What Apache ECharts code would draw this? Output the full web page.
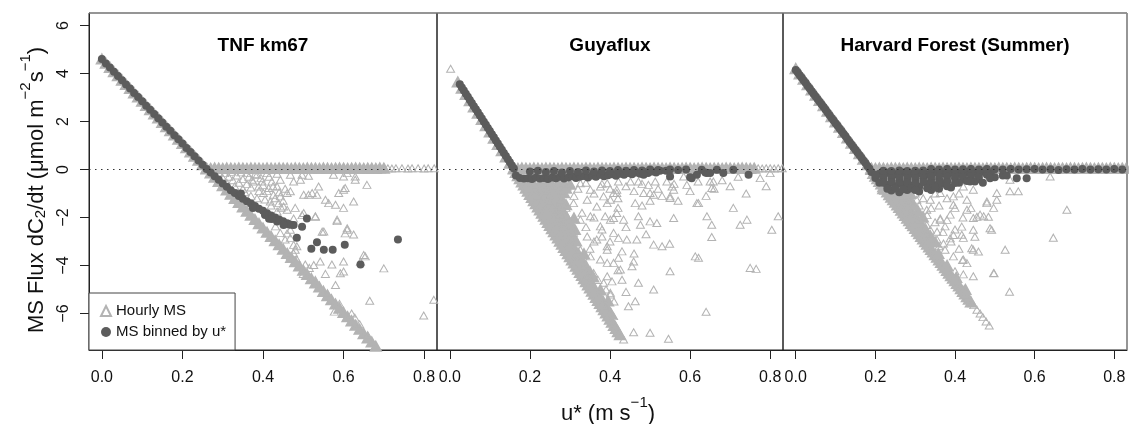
<!DOCTYPE html>
<html><head><meta charset="utf-8">
<script src="https://cdn.jsdelivr.net/npm/echarts@6/dist/echarts.min.js"></script>
<style>html,body{margin:0;padding:0;background:#fff}#c{width:1129px;height:424px}</style>
</head><body><div id="c"></div>
<script>
const FONT = '"Liberation Sans", Arial, Helvetica, sans-serif';
const panelTitles = ['TNF km67', 'Guyaflux', 'Harvard Forest (Summer)'];
const xTicks = [0, 0.2, 0.4, 0.6, 0.8];
const yTicks = [-6, -4, -2, 0, 2, 4, 6];
const legendNames = ['Hourly MS', 'MS binned by u*'];

// ---------- TNF km67 ----------
const tnfHourly = [
0.468,-0.22, 0.497,-0.22, 0.476,-0.50, 0.575,-0.22, 0.600,-0.29, 0.609,-0.15, 0.629,-0.29, 0.658,-0.64, 0.604,-0.77, 0.588,-0.98,
0.522,-0.98, 0.513,-1.05, 0.501,-1.05, 0.468,-0.91, 0.460,-0.98, 0.555,-1.26, 0.563,-1.40, 0.625,-1.33, 0.600,-1.60,
0.493,-0.43, 0.513,-0.26, 0.538,-0.71, 0.534,-1.05, 0.580,-1.47, 0.600,-0.84, 0.629,-0.43, 0.480,-1.60, 0.501,-1.81, 0.530,-1.95,
0.584,-2.09, 0.551,-2.58, 0.609,-2.51, 0.625,-2.71, 0.468,-2.85, 0.484,-3.20, 0.505,-3.96, 0.542,-3.83, 0.571,-3.96, 0.654,-3.62, 0.600,-3.83,
0.360,-0.15, 0.385,-0.22, 0.410,-0.15, 0.435,-0.18, 0.373,-0.43, 0.398,-0.50, 0.422,-0.50, 0.443,-0.43, 0.389,-0.71, 0.414,-0.77,
0.435,-0.71, 0.401,-0.98, 0.426,-1.05, 0.443,-1.12, 0.418,-1.33, 0.439,-1.40, 0.451,-1.54, 0.435,-1.75, 0.460,-1.68, 0.443,-2.09,
0.431,-2.37, 0.443,-2.64, 0.455,-2.92, 0.468,-2.51, 0.480,-3.34, 0.468,-3.62, 0.484,-3.75,
0.584,-2.15, 0.609,-2.45, 0.604,-2.66, 0.547,-2.59, 0.650,-3.56, 0.642,-3.84, 0.700,-4.12, 0.600,-4.25, 0.592,-4.32, 0.526,-3.98,
0.555,-4.35, 0.580,-4.81, 0.665,-5.47, 0.628,-6.17, 0.577,-5.92, 0.799,-6.08, 0.824,-5.43, 0.460,-2.66, 0.476,-3.14, 0.476,-3.49,
0.497,-1.90, 0.530,-1.97, 0.476,-2.04,
0.275,-0.15, 0.285,-0.30, 0.290,-0.12, 0.300,-0.35, 0.305,-0.15, 0.310,-0.55, 0.315,-0.30, 0.320,-0.10, 0.325,-0.45, 0.330,-0.70,
0.335,-0.25, 0.340,-0.55, 0.345,-0.12, 0.350,-0.80, 0.350,-0.40, 0.355,-0.95, 0.360,-0.60, 0.365,-0.30, 0.370,-1.10, 0.370,-0.75,
0.375,-0.50, 0.380,-0.20, 0.385,-1.20, 0.390,-0.90, 0.395,-0.35, 0.400,-0.65, 0.405,-1.25, 0.410,-0.90, 0.415,-0.30, 0.420,-1.50,
0.425,-0.70, 0.430,-1.20, 0.440,-0.95, 0.445,-1.60, 0.450,-1.30, 0.455,-0.80,
0.500,-4.35, 0.530,-4.60, 0.560,-5.15, 0.590,-5.60, 0.620,-6.00, 0.640,-6.45, 0.660,-6.90, 0.515,-4.10,
0.710,0.05, 0.720,0.04, 0.730,0.05, 0.745,0.05, 0.760,0.04, 0.770,0.05, 0.785,0.05, 0.800,0.04, 0.810,0.05, 0.825,0.05
];
const tnfHourlyBand = [
0.00,4.60, 0.01,4.42, 0.02,4.25, 0.03,4.07, 0.04,3.90, 0.05,3.72, 0.06,3.54, 0.07,3.37, 0.08,3.19, 0.09,3.02,
0.10,2.84, 0.11,2.66, 0.12,2.49, 0.13,2.31, 0.14,2.14, 0.15,1.96, 0.16,1.78, 0.17,1.61, 0.18,1.43, 0.19,1.26,
0.20,1.08, 0.21,0.90, 0.22,0.73, 0.23,0.55, 0.24,0.38, 0.25,0.20, 0.26,0.02, 0.27,-0.15, 0.28,-0.33, 0.29,-0.50,
0.30,-0.68, 0.31,-0.86, 0.32,-1.03, 0.33,-1.21, 0.34,-1.38, 0.35,-1.56, 0.36,-1.74, 0.37,-1.91, 0.38,-2.09, 0.39,-2.26,
0.40,-2.44, 0.41,-2.62, 0.42,-2.79, 0.43,-2.97, 0.44,-3.14, 0.45,-3.32, 0.46,-3.50, 0.47,-3.67, 0.48,-3.85, 0.49,-4.02,
0.50,-4.20, 0.51,-4.38, 0.52,-4.55, 0.53,-4.73, 0.54,-4.90, 0.55,-5.08, 0.56,-5.26, 0.57,-5.43, 0.58,-5.61, 0.59,-5.78,
0.60,-5.96, 0.61,-6.14, 0.62,-6.31, 0.63,-6.49, 0.64,-6.66, 0.65,-6.84, 0.66,-7.02, 0.67,-7.19, 0.68,-7.37,
0.26,0.05, 0.27,0.04, 0.28,0.06, 0.29,0.05, 0.30,0.04, 0.31,0.06, 0.32,0.05, 0.33,0.04, 0.34,0.06, 0.35,0.05,
0.36,0.04, 0.37,0.06, 0.38,0.05, 0.39,0.05, 0.40,0.04, 0.41,0.06, 0.42,0.05, 0.43,0.04, 0.44,0.06, 0.45,0.05,
0.46,0.05, 0.47,0.04, 0.48,0.06, 0.49,0.05, 0.50,0.04, 0.51,0.06, 0.52,0.05, 0.53,0.05, 0.54,0.04, 0.55,0.06,
0.56,0.05, 0.57,0.04, 0.58,0.05, 0.59,0.06, 0.60,0.05, 0.61,0.04, 0.62,0.05, 0.63,0.06, 0.64,0.05, 0.65,0.04,
0.66,0.05, 0.67,0.05, 0.68,0.04, 0.69,0.06, 0.70,0.05
];
const tnfBinned = [
0.00,4.60, 0.01,4.42, 0.02,4.25, 0.03,4.07, 0.04,3.90, 0.05,3.72, 0.06,3.54, 0.07,3.37, 0.08,3.19, 0.09,3.02,
0.10,2.84, 0.11,2.66, 0.12,2.49, 0.13,2.31, 0.14,2.14, 0.15,1.96, 0.16,1.78, 0.17,1.61, 0.18,1.43, 0.19,1.26,
0.20,1.08, 0.21,0.90, 0.22,0.73, 0.23,0.55, 0.24,0.38, 0.25,0.20, 0.26,0.02,
0.27,-0.12, 0.28,-0.28, 0.29,-0.43, 0.30,-0.58, 0.31,-0.72, 0.32,-0.86, 0.33,-0.98, 0.34,-1.10, 0.35,-1.22, 0.36,-1.32,
0.37,-1.42, 0.38,-1.52, 0.39,-1.64, 0.40,-1.72, 0.41,-1.82, 0.42,-1.92, 0.43,-2.00, 0.44,-2.08, 0.45,-2.16, 0.46,-2.24, 0.47,-2.30,
0.345,-1.00, 0.375,-1.60, 0.405,-1.90, 0.415,-2.05,
0.509,-2.04, 0.497,-2.38, 0.476,-2.31, 0.464,-2.29, 0.451,-2.31, 0.435,-2.17, 0.422,-2.06, 0.484,-2.84, 0.534,-3.03, 0.520,-3.30,
0.551,-3.34, 0.573,-3.34, 0.603,-3.13, 0.642,-3.96, 0.735,-2.92
];

// ---------- Guyaflux ----------
const guyHourly = [
0.393,-0.57, 0.421,-0.50, 0.463,-1.40, 0.471,-0.50, 0.496,-0.64, 0.513,-0.50, 0.555,-0.71, 0.584,-0.29, 0.592,-0.64, 0.658,-0.50,
0.654,-0.77, 0.775,-0.36, 0.800,-0.15, 0.484,-0.98, 0.509,-1.05, 0.550,-1.12, 0.559,-0.84, 0.621,-1.40, 0.708,-1.60, 0.409,-2.02,
0.434,-2.09, 0.471,-1.95, 0.476,-2.30, 0.500,-2.16, 0.517,-2.23, 0.559,-2.02, 0.642,-1.95, 0.654,-2.30, 0.742,-2.09, 0.725,-2.30,
0.804,-2.51, 0.820,-1.95, 0.654,-2.81, 0.409,-2.64, 0.421,-2.85, 0.442,-2.92, 0.467,-2.92, 0.509,-3.13, 0.530,-3.20, 0.549,-3.09,
0.613,-3.62, 0.621,-3.68, 0.750,-4.10, 0.765,-4.14, 0.393,-3.34, 0.430,-3.41, 0.421,-3.68, 0.455,-4.03, 0.459,-3.83, 0.550,-4.24,
0.426,-4.17, 0.405,-4.66, 0.430,-4.59, 0.471,-4.72, 0.509,-5.00, 0.401,-5.21, 0.463,-5.49, 0.446,-5.70, 0.640,-5.93, 0.388,-5.70,
0.413,-6.46, 0.459,-6.78, 0.500,-6.80, 0.546,-7.05, 0.434,-7.08, 0.617,-1.40, 0.451,-0.50, 0.542,-0.50, 0.650,-0.50, 0.500,-0.98,
0.417,-0.98, 0.550,-1.19,
0.251,-0.57, 0.293,-0.71, 0.326,-0.57, 0.351,-0.84, 0.376,-0.71, 0.409,-0.98, 0.276,-1.26, 0.309,-1.40, 0.343,-1.26, 0.367,-1.54,
0.393,-1.40, 0.417,-1.81, 0.293,-1.95, 0.326,-2.09, 0.351,-1.95, 0.376,-2.37, 0.401,-2.09, 0.309,-2.64, 0.343,-2.79, 0.367,-2.92,
0.393,-3.20, 0.326,-3.34, 0.351,-3.62, 0.376,-3.75, 0.409,-3.89, 0.334,-4.03, 0.359,-4.31, 0.393,-4.45, 0.268,-1.68, 0.284,-2.37,
0.301,-3.06, 0.318,-3.75, 0.343,-4.45,
0.384,-1.12, 0.401,-1.26, 0.417,-0.84, 0.388,-1.95, 0.380,-2.79, 0.393,-3.89, 0.384,-4.72, 0.401,-5.14, 0.380,-5.56, 0.409,-6.11,
0.30,-0.60, 0.32,-0.80, 0.34,-0.55, 0.36,-1.00, 0.38,-0.60, 0.40,-0.80, 0.42,-1.20, 0.44,-0.70, 0.46,-0.90, 0.48,-0.60,
0.50,-1.30, 0.52,-0.80, 0.53,-1.10, 0.56,-0.60, 0.57,-1.30, 0.60,-0.90, 0.62,-0.50, 0.64,-1.10, 0.66,-0.80, 0.68,-0.45,
0.70,-0.70, 0.72,-0.30, 0.74,-1.00, 0.79,-0.70,
0.36,-2.00, 0.38,-2.50, 0.40,-3.00, 0.42,-1.60, 0.44,-2.40, 0.46,-3.50, 0.48,-1.50, 0.49,-2.70, 0.36,-3.00, 0.35,-3.30,
0.37,-4.60, 0.39,-5.00, 0.41,-5.50, 0.42,-4.20, 0.44,-5.10, 0.34,-2.40, 0.33,-1.80, 0.31,-1.10, 0.29,-1.60, 0.28,-0.90,
0.27,-1.90, 0.26,-0.70, 0.25,-1.30, 0.24,-0.90, 0.23,-0.50, 0.22,-1.10,
0.002,4.20,
0.77,0.05, 0.78,0.04, 0.79,0.05, 0.80,0.05, 0.81,0.04, 0.82,0.05, 0.83,0.05
];
const guyHourlyBand = [
0.02,3.64, 0.03,3.38, 0.04,3.12, 0.05,2.86, 0.06,2.60, 0.07,2.34, 0.08,2.08, 0.09,1.82, 0.10,1.56, 0.11,1.30,
0.12,1.04, 0.13,0.78, 0.14,0.52, 0.15,0.26, 0.16,0.02,
0.165,-0.13, 0.170,-0.26, 0.175,-0.39, 0.180,-0.52, 0.185,-0.65, 0.190,-0.78, 0.195,-0.91, 0.200,-1.04, 0.205,-1.17, 0.210,-1.30,
0.215,-1.43, 0.220,-1.56, 0.225,-1.69, 0.230,-1.82, 0.235,-1.95, 0.240,-2.08, 0.245,-2.21, 0.250,-2.34, 0.255,-2.47, 0.260,-2.60,
0.265,-2.73, 0.270,-2.86, 0.275,-2.99, 0.280,-3.12, 0.285,-3.25, 0.290,-3.38, 0.295,-3.51, 0.300,-3.64, 0.305,-3.77, 0.310,-3.90,
0.315,-4.03, 0.320,-4.16, 0.325,-4.29, 0.330,-4.42, 0.335,-4.55, 0.340,-4.68, 0.345,-4.81, 0.350,-4.94, 0.355,-5.07, 0.360,-5.20,
0.365,-5.33, 0.370,-5.46, 0.375,-5.59, 0.380,-5.72, 0.385,-5.85, 0.390,-5.98, 0.395,-6.11, 0.400,-6.24, 0.405,-6.37, 0.410,-6.50,
0.415,-6.63, 0.420,-6.76, 0.425,-6.89,
0.195,-0.60, 0.210,-0.62, 0.225,-0.58, 0.240,-0.60, 0.255,-0.63, 0.270,-0.57, 0.285,-0.60, 0.300,-0.62,
0.200,-0.80, 0.215,-0.82, 0.230,-0.78, 0.245,-0.80, 0.260,-0.82, 0.275,-0.80, 0.290,-0.78,
0.210,-1.00, 0.225,-1.02, 0.240,-0.98, 0.255,-1.00, 0.270,-1.03, 0.285,-0.97,
0.220,-1.25, 0.235,-1.27, 0.250,-1.23, 0.265,-1.25, 0.280,-1.26,
0.228,-1.50, 0.243,-1.48, 0.258,-1.52, 0.273,-1.50, 0.290,-1.47,
0.238,-1.75, 0.253,-1.77, 0.268,-1.73, 0.283,-1.75,
0.247,-2.00, 0.262,-2.02, 0.277,-1.98, 0.292,-2.00, 0.310,-2.03,
0.257,-2.25, 0.272,-2.27, 0.287,-2.23, 0.302,-2.25,
0.266,-2.50, 0.281,-2.52, 0.296,-2.48, 0.312,-2.50,
0.276,-2.75, 0.291,-2.77, 0.306,-2.73,
0.285,-3.00, 0.300,-3.02, 0.315,-2.98,
0.295,-3.25, 0.310,-3.27,
0.305,-3.50, 0.320,-3.48, 0.335,-3.52,
0.315,-3.75, 0.330,-3.77,
0.325,-4.00, 0.340,-4.02, 0.335,-4.25, 0.350,-4.27,
0.344,-4.50, 0.358,-4.48, 0.353,-4.75, 0.363,-5.00, 0.376,-5.02, 0.373,-5.25,
0.383,-5.50, 0.395,-5.48, 0.393,-5.75, 0.402,-6.00,
0.16,0.05, 0.17,0.04, 0.18,0.06, 0.19,0.05, 0.20,0.04, 0.21,0.06, 0.22,0.05, 0.23,0.04, 0.24,0.06, 0.25,0.05,
0.26,0.05, 0.27,0.04, 0.28,0.06, 0.29,0.05, 0.30,0.04, 0.31,0.06, 0.32,0.05, 0.33,0.04, 0.34,0.06, 0.35,0.05,
0.36,0.04, 0.37,0.06, 0.38,0.05, 0.39,0.05, 0.40,0.04, 0.41,0.06, 0.42,0.05, 0.43,0.04, 0.44,0.06, 0.45,0.05,
0.46,0.05, 0.47,0.04, 0.48,0.06, 0.49,0.05, 0.50,0.04, 0.51,0.06, 0.52,0.05, 0.53,0.05, 0.54,0.04, 0.55,0.06,
0.56,0.05, 0.57,0.04, 0.58,0.05, 0.59,0.06, 0.60,0.05, 0.61,0.04, 0.62,0.05, 0.63,0.06, 0.64,0.05, 0.65,0.04,
0.66,0.05, 0.67,0.05, 0.68,0.04, 0.69,0.06, 0.70,0.05, 0.71,0.04, 0.72,0.05, 0.73,0.06, 0.74,0.05, 0.75,0.04, 0.76,0.05
];
const guyBinned = [
0.025,3.55, 0.030,3.42, 0.035,3.29, 0.040,3.16, 0.045,3.03, 0.050,2.90, 0.055,2.77, 0.060,2.64, 0.065,2.51, 0.070,2.38,
0.075,2.25, 0.080,2.12, 0.085,1.99, 0.090,1.86, 0.095,1.73, 0.100,1.60, 0.105,1.47, 0.110,1.34, 0.115,1.21, 0.120,1.08,
0.125,0.95, 0.130,0.82, 0.135,0.69, 0.140,0.56, 0.145,0.43, 0.150,0.30, 0.155,0.17, 0.160,0.04,
0.165,-0.25, 0.175,-0.35, 0.185,-0.38, 0.195,-0.36, 0.205,-0.40, 0.215,-0.33, 0.225,-0.38, 0.235,-0.35, 0.245,-0.40, 0.255,-0.33,
0.265,-0.36, 0.275,-0.30, 0.285,-0.38, 0.295,-0.33, 0.305,-0.28, 0.315,-0.35, 0.325,-0.30, 0.335,-0.27, 0.345,-0.33, 0.355,-0.25,
0.365,-0.30, 0.375,-0.22, 0.385,-0.28, 0.395,-0.24, 0.405,-0.20, 0.415,-0.26, 0.425,-0.18, 0.435,-0.22, 0.445,-0.15, 0.455,-0.20,
0.465,-0.12, 0.475,-0.18, 0.485,-0.10, 0.495,-0.15, 0.505,-0.08, 0.515,-0.12, 0.525,-0.05, 0.540,-0.05,
0.20,-0.08, 0.22,-0.05, 0.24,-0.10, 0.26,-0.06, 0.28,-0.12, 0.30,-0.06, 0.32,-0.10, 0.34,-0.04, 0.36,-0.08, 0.38,-0.04,
0.40,-0.06, 0.42,-0.02, 0.44,-0.05, 0.46,-0.02, 0.48,-0.04, 0.50,0.00, 0.52,-0.02, 0.55,0.00, 0.57,-0.02, 0.59,0.00,
0.550,-0.29, 0.604,-0.36, 0.617,-0.22, 0.629,-0.01, 0.642,-0.15, 0.667,-0.01, 0.683,-0.15, 0.708,-0.01, 0.746,-0.22, 0.484,-0.22,
0.455,-0.15, 0.600,-0.32, 0.638,-0.12, 0.650,-0.15
];

// ---------- Harvard Forest (Summer) ----------
const hfHourly = [
0.421,-0.71, 0.446,-0.84, 0.430,-1.26, 0.480,-1.33, 0.505,-1.26, 0.505,-0.98, 0.430,-1.68, 0.463,-1.88, 0.472,-1.95, 0.497,-1.60,
0.446,-2.02, 0.492,-2.51, 0.446,-2.51, 0.417,-2.72, 0.421,-2.85, 0.526,-3.34, 0.446,-3.34, 0.396,-3.62, 0.375,-3.34, 0.421,-3.75,
0.497,-4.31, 0.446,-4.45, 0.400,-4.24, 0.375,-2.37, 0.388,-1.88, 0.396,-1.47, 0.363,-2.09, 0.338,-2.51, 0.355,-2.92, 0.329,-1.68,
0.304,-1.26, 0.338,-1.26, 0.288,-1.81, 0.313,-2.09, 0.363,-0.98, 0.396,-1.12,
0.538,-0.43, 0.559,-0.91, 0.639,-0.29, 0.681,-1.68, 0.480,-1.40, 0.538,-0.91,
0.417,-2.38, 0.455,-1.97, 0.484,-1.97, 0.488,-2.45, 0.647,-2.84, 0.442,-3.28, 0.459,-3.42, 0.419,-3.77, 0.421,-4.37, 0.498,-4.32,
0.537,-5.09, 0.430,-5.22, 0.442,-5.57, 0.396,-2.73, 0.371,-3.08, 0.388,-2.87, 0.355,-2.59, 0.329,-2.31, 0.318,-2.04, 0.363,-2.04,
0.25,-0.90, 0.27,-1.10, 0.28,-0.80, 0.29,-1.30, 0.30,-1.00, 0.31,-1.50, 0.32,-1.20, 0.33,-1.90, 0.34,-1.60, 0.35,-2.20,
0.36,-1.50, 0.37,-2.60, 0.38,-2.10, 0.39,-3.00, 0.40,-2.50, 0.41,-3.30, 0.42,-2.00, 0.43,-3.90, 0.44,-1.60, 0.45,-2.80,
0.38,-1.20, 0.40,-1.60, 0.41,-1.00, 0.35,-1.00, 0.33,-2.70, 0.36,-3.20,
0.447,-5.65, 0.455,-5.84, 0.463,-6.00, 0.470,-6.15, 0.478,-6.33, 0.486,-6.50
];
const hfHourlyBand = [
0.00,4.20, 0.01,3.98, 0.02,3.76, 0.03,3.53, 0.04,3.31, 0.05,3.09, 0.06,2.87, 0.07,2.65, 0.08,2.42, 0.09,2.20,
0.10,1.98, 0.11,1.76, 0.12,1.54, 0.13,1.31, 0.14,1.09, 0.15,0.87, 0.16,0.65, 0.17,0.43, 0.18,0.20, 0.19,0.00,
0.195,-0.17, 0.200,-0.28, 0.205,-0.39, 0.210,-0.50, 0.215,-0.61, 0.220,-0.72, 0.225,-0.83, 0.230,-0.94, 0.235,-1.05, 0.240,-1.16,
0.245,-1.26, 0.250,-1.37, 0.255,-1.48, 0.260,-1.59, 0.265,-1.70, 0.270,-1.81, 0.275,-1.92, 0.280,-2.03, 0.285,-2.14, 0.290,-2.25,
0.295,-2.35, 0.300,-2.46, 0.305,-2.57, 0.310,-2.68, 0.315,-2.79, 0.320,-2.90, 0.325,-3.01, 0.330,-3.12, 0.335,-3.23, 0.340,-3.34,
0.345,-3.44, 0.350,-3.55, 0.355,-3.66, 0.360,-3.77, 0.365,-3.88, 0.370,-3.99, 0.375,-4.10, 0.380,-4.21, 0.385,-4.32, 0.390,-4.43,
0.395,-4.53, 0.400,-4.64, 0.405,-4.75, 0.410,-4.86, 0.415,-4.97, 0.420,-5.08, 0.425,-5.19, 0.430,-5.30, 0.435,-5.41, 0.440,-5.52,
0.225,-0.60, 0.240,-0.62, 0.255,-0.58, 0.270,-0.60, 0.285,-0.63,
0.220,-0.80, 0.235,-0.82, 0.250,-0.78, 0.265,-0.80, 0.280,-0.80,
0.243,-1.00, 0.258,-1.02, 0.273,-0.98, 0.288,-1.00,
0.254,-1.25, 0.269,-1.27, 0.284,-1.23,
0.266,-1.50, 0.281,-1.52, 0.296,-1.48,
0.277,-1.75, 0.292,-1.77, 0.307,-1.73,
0.289,-2.00, 0.304,-2.02, 0.319,-1.98,
0.300,-2.25, 0.315,-2.27, 0.312,-2.50, 0.327,-2.52, 0.324,-2.75, 0.338,-2.77, 0.335,-3.00, 0.350,-3.02,
0.358,-3.50, 0.380,-4.00, 0.403,-4.50, 0.426,-5.00,
0.19,0.05, 0.20,0.04, 0.21,0.06, 0.22,0.05, 0.23,0.04, 0.24,0.06, 0.25,0.05, 0.26,0.05, 0.27,0.04, 0.28,0.06,
0.29,0.05, 0.30,0.04, 0.31,0.06, 0.32,0.05, 0.33,0.04, 0.34,0.06, 0.35,0.05, 0.36,0.04, 0.37,0.06, 0.38,0.05,
0.39,0.05, 0.40,0.04, 0.41,0.06, 0.42,0.05, 0.43,0.04, 0.44,0.06, 0.45,0.05, 0.46,0.05, 0.47,0.04, 0.48,0.06,
0.49,0.05, 0.50,0.04, 0.51,0.06, 0.52,0.05, 0.53,0.05, 0.54,0.04, 0.55,0.06, 0.56,0.05, 0.57,0.04, 0.58,0.05,
0.59,0.06, 0.60,0.05, 0.61,0.04, 0.62,0.05, 0.63,0.06, 0.64,0.05, 0.65,0.04, 0.66,0.05, 0.67,0.05, 0.68,0.04,
0.69,0.06, 0.70,0.05, 0.71,0.04, 0.72,0.05, 0.73,0.06, 0.74,0.05, 0.75,0.04, 0.76,0.05, 0.77,0.05, 0.78,0.04,
0.79,0.06, 0.80,0.05, 0.81,0.04, 0.82,0.05, 0.83,0.05
];
const hfBinned = [
0.000,4.15, 0.005,4.04, 0.010,3.93, 0.015,3.82, 0.020,3.71, 0.025,3.60, 0.030,3.48, 0.035,3.37, 0.040,3.26, 0.045,3.15,
0.050,3.04, 0.055,2.93, 0.060,2.82, 0.065,2.71, 0.070,2.60, 0.075,2.49, 0.080,2.37, 0.085,2.26, 0.090,2.15, 0.095,2.04,
0.100,1.93, 0.105,1.82, 0.110,1.71, 0.115,1.60, 0.120,1.49, 0.125,1.38, 0.130,1.26, 0.135,1.15, 0.140,1.04, 0.145,0.93,
0.150,0.82, 0.155,0.71, 0.160,0.60, 0.165,0.49, 0.170,0.38, 0.175,0.27, 0.180,0.15, 0.185,0.04,
0.19,-0.10, 0.21,-0.18, 0.23,-0.14, 0.25,-0.20, 0.27,-0.12, 0.29,-0.18, 0.31,-0.15, 0.33,-0.20, 0.35,-0.10, 0.37,-0.16,
0.39,-0.12, 0.41,-0.18, 0.43,-0.10, 0.45,-0.14, 0.47,-0.08, 0.49,-0.12,
0.20,-0.35, 0.22,-0.42, 0.24,-0.38, 0.26,-0.45, 0.28,-0.40, 0.30,-0.44, 0.32,-0.36, 0.34,-0.42, 0.36,-0.40, 0.38,-0.46,
0.40,-0.38, 0.42,-0.42, 0.44,-0.35, 0.46,-0.40, 0.50,-0.32, 0.52,-0.25,
0.21,-0.55, 0.23,-0.65, 0.25,-0.70, 0.27,-0.62, 0.29,-0.68, 0.31,-0.72, 0.33,-0.60, 0.35,-0.66, 0.37,-0.58, 0.39,-0.75,
0.41,-0.55, 0.45,-0.50,
0.24,-0.88, 0.26,-0.95, 0.28,-0.85, 0.31,-0.92, 0.34,-0.85, 0.36,-0.80,
0.20,-0.22, 0.22,-0.28, 0.24,-0.25, 0.26,-0.30, 0.28,-0.26, 0.30,-0.30, 0.32,-0.24, 0.34,-0.28, 0.36,-0.25, 0.38,-0.30,
0.40,-0.26, 0.42,-0.28, 0.44,-0.22, 0.46,-0.26, 0.48,-0.22,
0.22,-0.55, 0.24,-0.52, 0.26,-0.58, 0.28,-0.55, 0.30,-0.58, 0.32,-0.52, 0.34,-0.56, 0.36,-0.55, 0.38,-0.52, 0.40,-0.56, 0.43,-0.48,
0.23,-0.80, 0.25,-0.78, 0.27,-0.82, 0.29,-0.78, 0.30,-0.85, 0.33,-0.78, 0.35,-0.75, 0.38,-0.70,
0.22,-0.05, 0.24,-0.06, 0.26,-0.04, 0.28,-0.06, 0.30,-0.05, 0.32,-0.04,
0.555,-0.36, 0.580,-0.36, 0.530,-0.25, 0.470,-0.55, 0.488,-0.36, 0.438,-0.50,
0.34,0.02, 0.36,0.00, 0.38,0.02, 0.40,0.00, 0.42,0.01, 0.44,0.02, 0.46,0.00, 0.48,0.02, 0.50,0.01, 0.52,0.00,
0.54,0.02, 0.56,0.00, 0.58,0.01, 0.60,0.02, 0.62,0.00, 0.64,0.01, 0.66,-0.02, 0.68,0.01, 0.70,0.00, 0.72,0.02,
0.74,0.00, 0.76,0.01, 0.78,0.00, 0.80,0.02, 0.82,0.00
];

function pairs(a) { const r = []; for (let i = 0; i < a.length; i += 2) r.push([a[i], a[i + 1]]); return r; }

const panels = [
  { hourly: tnfHourly, band: tnfHourlyBand, binned: tnfBinned },
  { hourly: guyHourly, band: guyHourlyBand, binned: guyBinned },
  { hourly: hfHourly, band: hfHourlyBand, binned: hfBinned }
];

const gridBoxes = [
  { left: 89, top: 13, width: 348, height: 337 },
  { left: 437, top: 13, width: 346, height: 337 },
  { left: 783, top: 13, width: 344, height: 337 }
];
const XMIN = -0.032, XMAX = 0.832, YMIN = -7.52, YMAX = 6.52;
const GRAY = '#b3b3b3', DARK = '#5c5c5c', AX = '#222';

const fmtY = v => (v < 0 ? '\u2212' + Math.abs(v) : String(v));

const option = {
  animation: false,
  backgroundColor: '#fff',
  grid: gridBoxes.map(g => Object.assign({ show: true, borderColor: AX, borderWidth: 1, backgroundColor: 'transparent' }, g)),
  xAxis: gridBoxes.map((g, i) => ({
    type: 'value', gridIndex: i, min: XMIN, max: XMAX,
    axisLine: { show: true, onZero: false, lineStyle: { color: AX, width: 1 } },
    axisTick: { show: true, customValues: xTicks, length: 9, inside: false, lineStyle: { color: AX, width: 1 } },
    axisLabel: { show: true, customValues: xTicks, margin: 20, fontSize: 16, fontFamily: FONT, color: '#111',
      formatter: v => Number(v).toFixed(1) },
    splitLine: { show: false }
  })),
  yAxis: gridBoxes.map((g, i) => ({
    type: 'value', gridIndex: i, min: YMIN, max: YMAX, show: i === 0,
    axisLine: { show: i === 0, onZero: false, lineStyle: { color: AX, width: 1 } },
    axisTick: { show: i === 0, customValues: yTicks, length: 9, inside: false, lineStyle: { color: AX, width: 1 } },
    axisLabel: { show: i === 0, customValues: yTicks, rotate: 90, margin: 17, fontSize: 16, fontFamily: FONT, color: '#111',
      formatter: fmtY },
    splitLine: { show: false }
  })),
  legend: {
    left: 89, top: 293, orient: 'vertical',
    backgroundColor: '#fff', borderColor: '#444', borderWidth: 1, borderRadius: 0,
    padding: [10, 9, 10, 11], itemGap: 5, itemWidth: 10, itemHeight: 10,
    textStyle: { fontSize: 15, fontFamily: FONT, color: '#111', lineHeight: 16 },
    data: [{ name: legendNames[0], icon: 'triangle' }, { name: legendNames[1], icon: 'circle' }],
    selectedMode: false
  },
  series: [],
  graphic: []
};

panels.forEach((p, i) => {
  option.series.push({
    type: 'scatter', name: legendNames[0], xAxisIndex: i, yAxisIndex: i,
    data: pairs(p.hourly), symbol: 'triangle', symbolSize: [8, 7], z: 3, silent: true,
    itemStyle: { color: 'rgba(255,255,255,0)', borderColor: GRAY, borderWidth: 1, opacity: 1 }
  });
  option.series.push({
    type: 'scatter', name: legendNames[0], xAxisIndex: i, yAxisIndex: i,
    data: pairs(p.band), symbol: 'triangle', symbolSize: [10, 9], z: 2, silent: true,
    itemStyle: { color: GRAY, borderColor: GRAY, borderWidth: 2, opacity: 1 }
  });
  option.series.push({
    type: 'scatter', name: legendNames[1], xAxisIndex: i, yAxisIndex: i,
    data: pairs(p.binned), symbol: 'circle', symbolSize: 8, z: 4, silent: true,
    itemStyle: { color: DARK, opacity: 1 }
  });
  option.series.push({
    type: 'scatter', name: 'zero' + i, xAxisIndex: i, yAxisIndex: i, data: [], z: 5, silent: true,
    markLine: { silent: true, symbol: 'none', label: { show: false }, animation: false,
      lineStyle: { color: '#333', width: 1, type: [1.5, 4.5] }, data: [{ yAxis: 0 }] }
  });
  const g = gridBoxes[i];
  option.graphic.push({
    type: 'text', x: g.left + g.width / 2, y: 46, z: 50,
    style: { text: panelTitles[i], fontSize: 19, fontWeight: 'bold', fontFamily: FONT, fill: '#000',
      align: 'center', verticalAlign: 'middle', textAlign: 'center', textVerticalAlign: 'middle' }
  });
});

// lighter outer top/right frame edges, as in the reference
option.graphic.push({ type: 'line', z: 60, silent: true,
  shape: { x1: 89, y1: 13, x2: 1127, y2: 13 }, style: { stroke: '#9a9a9a', lineWidth: 1.2 } });
option.graphic.push({ type: 'line', z: 60, silent: true,
  shape: { x1: 1127, y1: 13, x2: 1127, y2: 350 }, style: { stroke: '#9a9a9a', lineWidth: 1.2 } });

// axis titles with sub/superscripts
option.graphic.push({
  type: 'text', x: 608, y: 410, z: 50,
  style: {
    text: '{b|u* (m s}{sup|\u22121}{b|)}',
    fontSize: 22, fontFamily: FONT, fill: '#111',
    align: 'center', verticalAlign: 'middle', textAlign: 'center', textVerticalAlign: 'middle',
    rich: {
      b: { fontSize: 22, fontFamily: FONT, fill: '#111', lineHeight: 30, verticalAlign: 'bottom' },
      sup: { fontSize: 15, fontFamily: FONT, fill: '#111', lineHeight: 15, verticalAlign: 'top' }
    }
  }
});
option.graphic.push({
  type: 'text', x: 33, y: 190, z: 50, rotation: Math.PI / 2,
  style: {
    text: '{b|MS Flux dC}{sub|2}{b|/dt (\u03bcmol m}{sup|\u22122}{b|s}{sup|\u22121}{b|)}',
    fontSize: 22, fontFamily: FONT, fill: '#111',
    align: 'center', verticalAlign: 'middle', textAlign: 'center', textVerticalAlign: 'middle',
    rich: {
      b: { fontSize: 22, fontFamily: FONT, fill: '#111', lineHeight: 30, verticalAlign: 'bottom' },
      sup: { fontSize: 15, fontFamily: FONT, fill: '#111', lineHeight: 15, verticalAlign: 'top' },
      sub: { fontSize: 15, fontFamily: FONT, fill: '#111', lineHeight: 15, verticalAlign: 'bottom' }
    }
  }
});

const chart = echarts.init(document.getElementById('c'), null, { renderer: 'canvas', width: 1129, height: 424 });
chart.setOption(option);
</script>
</body></html>
